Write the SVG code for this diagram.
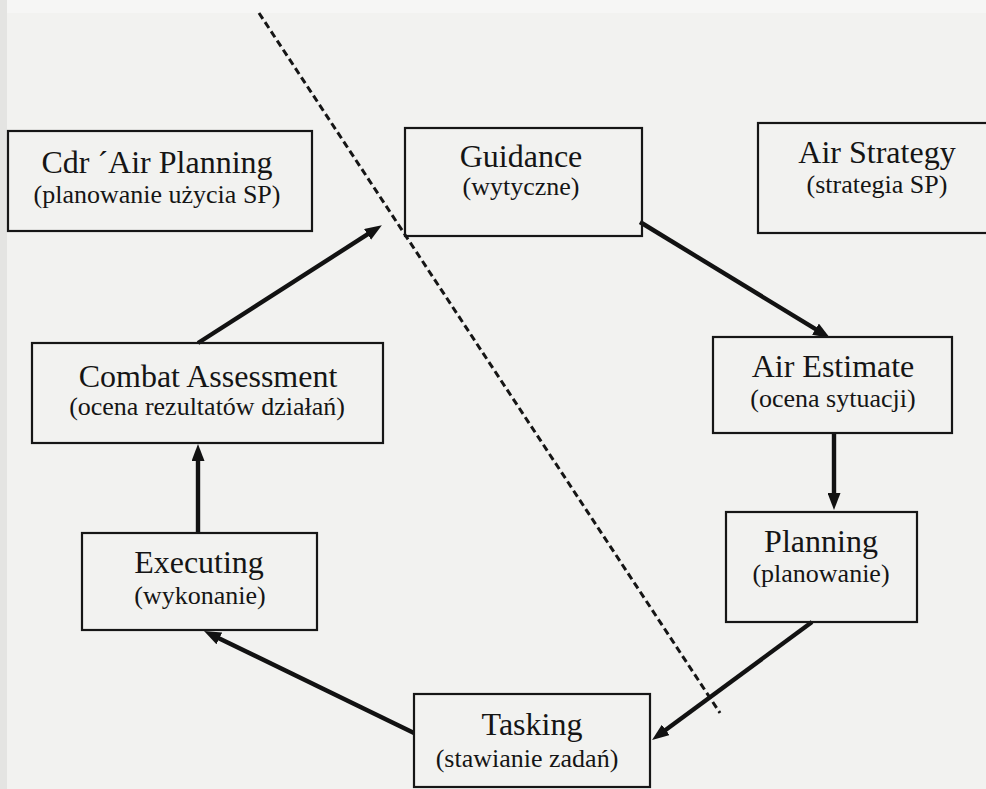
<svg xmlns="http://www.w3.org/2000/svg" width="986" height="789" viewBox="0 0 986 789">
  <defs>
    <style>
      .box { fill: none; stroke: #161616; stroke-width: 2.2; }
      .t { font-family: "Liberation Serif", "Times New Roman", serif; fill: #151515; text-anchor: middle; }
      .h { font-size: 32px; }
      .s { font-size: 26px; }
      .conn { stroke: #121212; stroke-width: 4.4; fill: none; marker-end: url(#ah); }
      .dash { stroke: #151515; stroke-width: 3; fill: none; stroke-dasharray: 7 4; }
    </style>
    <marker id="ah" markerWidth="18" markerHeight="13" refX="4" refY="6.5" orient="auto" markerUnits="userSpaceOnUse">
      <path d="M0,0 L17,6.5 L0,13 Z" fill="#121212"/>
    </marker>
  </defs>

  <rect x="0" y="0" width="986" height="789" fill="#f2f2f0"/>
  <rect x="0" y="0" width="986" height="13" fill="#f6f6f5"/>
  <rect x="0" y="0" width="7" height="789" fill="#e4e4e2"/>

  <g id="connectors">
    <line class="dash" x1="259" y1="13" x2="720" y2="713"/>
    <line class="conn" x1="198" y1="343" x2="370.9" y2="232.2"/>
    <line class="conn" x1="640" y1="222" x2="818.9" y2="331.2"/>
    <line class="conn" x1="834" y1="433" x2="834" y2="497"/>
    <line class="conn" x1="812" y1="622" x2="662.5" y2="732.3"/>
    <line class="conn" x1="414" y1="733" x2="215.7" y2="636.7"/>
    <line class="conn" x1="198" y1="533" x2="198" y2="457"/>
  </g>

  <g id="cdr-air-planning">
    <rect class="box" x="8" y="131" width="304" height="100"/>
    <text class="t h" x="157" y="173">Cdr ´Air Planning</text>
    <text class="t s" x="157" y="203">(planowanie użycia SP)</text>
  </g>

  <g id="guidance">
    <rect class="box" x="405" y="128" width="237" height="108"/>
    <text class="t h" x="521" y="167">Guidance</text>
    <text class="t s" x="521" y="195">(wytyczne)</text>
  </g>

  <g id="air-strategy">
    <rect class="box" x="758" y="123" width="240" height="110"/>
    <text class="t h" x="877" y="163">Air Strategy</text>
    <text class="t s" x="877" y="193">(strategia SP)</text>
  </g>

  <g id="combat-assessment">
    <rect class="box" x="32" y="343" width="351" height="100"/>
    <text class="t h" x="208" y="387">Combat Assessment</text>
    <text class="t s" x="207" y="415">(ocena rezultatów działań)</text>
  </g>

  <g id="air-estimate">
    <rect class="box" x="713" y="337" width="239" height="96"/>
    <text class="t h" x="833" y="377">Air Estimate</text>
    <text class="t s" x="833" y="407">(ocena sytuacji)</text>
  </g>

  <g id="executing">
    <rect class="box" x="82" y="533" width="235" height="97"/>
    <text class="t h" x="199" y="573">Executing</text>
    <text class="t s" x="200" y="604">(wykonanie)</text>
  </g>

  <g id="planning">
    <rect class="box" x="726" y="512" width="191" height="110"/>
    <text class="t h" x="821" y="552">Planning</text>
    <text class="t s" x="821" y="582">(planowanie)</text>
  </g>

  <g id="tasking">
    <rect class="box" x="414" y="694" width="236" height="93"/>
    <text class="t h" x="532" y="735">Tasking</text>
    <text class="t s" x="527" y="767">(stawianie zadań)</text>
  </g>
</svg>
